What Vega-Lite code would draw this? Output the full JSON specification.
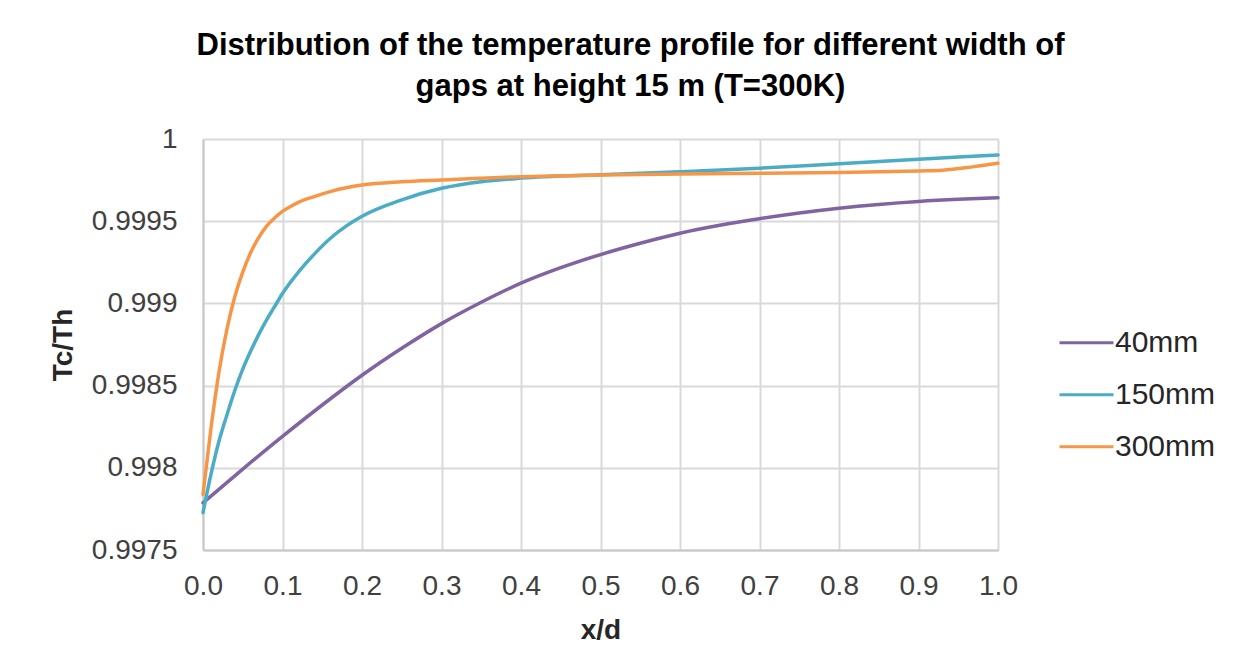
{
  "$schema": "https://vega.github.io/schema/vega-lite/v6.json",
  "width": 795,
  "height": 411,
  "autosize": {"type": "none"},
  "padding": {"left": 203, "top": 139, "right": 252, "bottom": 121},
  "background": "white",
  "config": {
    "font": "Liberation Sans",
    "view": {"stroke": null},
    "axis": {"gridColor": "#d9d9d9", "gridWidth": 2, "domainColor": "#c8c8c8", "domainWidth": 2, "ticks": false, "labelFont": "Liberation Sans", "labelColor": "#404040", "titleFont": "Liberation Sans", "titleColor": "#262626", "labelFlush": false, "labelOverlap": false}
  },
  "title": {
    "text": ["Distribution of the temperature profile for different width of", "gaps at height 15 m (T=300K)"],
    "fontSize": 31,
    "fontWeight": "bold",
    "font": "Liberation Sans",
    "color": "#000000",
    "lineHeight": 41,
    "anchor": "middle",
    "frame": "group",
    "dx": 30,
    "offset": 22
  },
  "data": {
    "values": [
      {"series": "40mm", "x": 0.0, "y": 0.997787},
      {"series": "40mm", "x": 0.05, "y": 0.997992},
      {"series": "40mm", "x": 0.1, "y": 0.998191},
      {"series": "40mm", "x": 0.15, "y": 0.998382},
      {"series": "40mm", "x": 0.2, "y": 0.998563},
      {"series": "40mm", "x": 0.25, "y": 0.998727},
      {"series": "40mm", "x": 0.3, "y": 0.998877},
      {"series": "40mm", "x": 0.35, "y": 0.999007},
      {"series": "40mm", "x": 0.4, "y": 0.999123},
      {"series": "40mm", "x": 0.45, "y": 0.999217},
      {"series": "40mm", "x": 0.5, "y": 0.999297},
      {"series": "40mm", "x": 0.55, "y": 0.999366},
      {"series": "40mm", "x": 0.6, "y": 0.999427},
      {"series": "40mm", "x": 0.65, "y": 0.999475},
      {"series": "40mm", "x": 0.7, "y": 0.999515},
      {"series": "40mm", "x": 0.75, "y": 0.99955},
      {"series": "40mm", "x": 0.8, "y": 0.999579},
      {"series": "40mm", "x": 0.85, "y": 0.999602},
      {"series": "40mm", "x": 0.9, "y": 0.99962},
      {"series": "40mm", "x": 0.95, "y": 0.999633},
      {"series": "40mm", "x": 1.0, "y": 0.999642},
      {"series": "150mm", "x": 0.0, "y": 0.997727},
      {"series": "150mm", "x": 0.01, "y": 0.99796},
      {"series": "150mm", "x": 0.02, "y": 0.99816},
      {"series": "150mm", "x": 0.03, "y": 0.99832},
      {"series": "150mm", "x": 0.04, "y": 0.99847},
      {"series": "150mm", "x": 0.05, "y": 0.9986},
      {"series": "150mm", "x": 0.06, "y": 0.99871},
      {"series": "150mm", "x": 0.07, "y": 0.99881},
      {"series": "150mm", "x": 0.08, "y": 0.9989},
      {"series": "150mm", "x": 0.09, "y": 0.99898},
      {"series": "150mm", "x": 0.1, "y": 0.99906},
      {"series": "150mm", "x": 0.12, "y": 0.99919},
      {"series": "150mm", "x": 0.14, "y": 0.9993},
      {"series": "150mm", "x": 0.16, "y": 0.999395},
      {"series": "150mm", "x": 0.18, "y": 0.99947},
      {"series": "150mm", "x": 0.2, "y": 0.99953},
      {"series": "150mm", "x": 0.25, "y": 0.99963},
      {"series": "150mm", "x": 0.3, "y": 0.9997},
      {"series": "150mm", "x": 0.35, "y": 0.99974},
      {"series": "150mm", "x": 0.4, "y": 0.999762},
      {"series": "150mm", "x": 0.5, "y": 0.999783},
      {"series": "150mm", "x": 0.6, "y": 0.999801},
      {"series": "150mm", "x": 0.7, "y": 0.999822},
      {"series": "150mm", "x": 0.8, "y": 0.99985},
      {"series": "150mm", "x": 0.9, "y": 0.999877},
      {"series": "150mm", "x": 0.95, "y": 0.99989},
      {"series": "150mm", "x": 1.0, "y": 0.999903},
      {"series": "300mm", "x": 0.0, "y": 0.997838},
      {"series": "300mm", "x": 0.01, "y": 0.99824},
      {"series": "300mm", "x": 0.02, "y": 0.99858},
      {"series": "300mm", "x": 0.03, "y": 0.99884},
      {"series": "300mm", "x": 0.04, "y": 0.99904},
      {"series": "300mm", "x": 0.05, "y": 0.99919},
      {"series": "300mm", "x": 0.06, "y": 0.99931},
      {"series": "300mm", "x": 0.07, "y": 0.9994},
      {"series": "300mm", "x": 0.08, "y": 0.99947},
      {"series": "300mm", "x": 0.09, "y": 0.99952},
      {"series": "300mm", "x": 0.1, "y": 0.99956},
      {"series": "300mm", "x": 0.11, "y": 0.99959},
      {"series": "300mm", "x": 0.12, "y": 0.999615},
      {"series": "300mm", "x": 0.14, "y": 0.99965},
      {"series": "300mm", "x": 0.16, "y": 0.99968},
      {"series": "300mm", "x": 0.18, "y": 0.999703},
      {"series": "300mm", "x": 0.2, "y": 0.99972},
      {"series": "300mm", "x": 0.25, "y": 0.99974},
      {"series": "300mm", "x": 0.3, "y": 0.999751},
      {"series": "300mm", "x": 0.4, "y": 0.999771},
      {"series": "300mm", "x": 0.5, "y": 0.999781},
      {"series": "300mm", "x": 0.6, "y": 0.999787},
      {"series": "300mm", "x": 0.7, "y": 0.999792},
      {"series": "300mm", "x": 0.8, "y": 0.999796},
      {"series": "300mm", "x": 0.9, "y": 0.999806},
      {"series": "300mm", "x": 0.93, "y": 0.99981},
      {"series": "300mm", "x": 0.97, "y": 0.999832},
      {"series": "300mm", "x": 1.0, "y": 0.999852}
    ]
  },
  "mark": {"type": "line", "interpolate": "monotone", "strokeWidth": 3.5, "strokeCap": "round"},
  "encoding": {
    "x": {
      "field": "x",
      "type": "quantitative",
      "scale": {"domain": [0, 1], "nice": false, "zero": false},
      "axis": {"values": [0, 0.1, 0.2, 0.3, 0.4, 0.5, 0.6, 0.7, 0.8, 0.9, 1.0], "format": ".1f", "title": "x/d", "labelFontSize": 28, "labelPadding": 22, "titleFontSize": 28, "titleFontWeight": "bold", "titlePadding": 16}
    },
    "y": {
      "field": "y",
      "type": "quantitative",
      "scale": {"domain": [0.9975, 1], "nice": false, "zero": false},
      "axis": {"values": [0.9975, 0.998, 0.9985, 0.999, 0.9995, 1], "format": "~g", "title": "Tc/Th", "labelFontSize": 28, "labelPadding": 26, "titleFontSize": 28, "titleFontWeight": "bold", "titlePadding": 14}
    },
    "color": {
      "field": "series",
      "type": "nominal",
      "sort": ["40mm", "150mm", "300mm"],
      "scale": {"domain": ["40mm", "150mm", "300mm"], "range": ["#8064a2", "#4bacc6", "#f79646"]},
      "legend": {"title": null, "orient": "none", "legendX": 855, "legendY": 178, "padding": 0, "symbolType": "stroke", "symbolSize": 2916, "symbolStrokeWidth": 3, "labelFontSize": 30, "labelColor": "#262626", "labelFont": "Liberation Sans", "labelOffset": 0, "clipHeight": 51.5, "rowPadding": 0}
    }
  }
}
